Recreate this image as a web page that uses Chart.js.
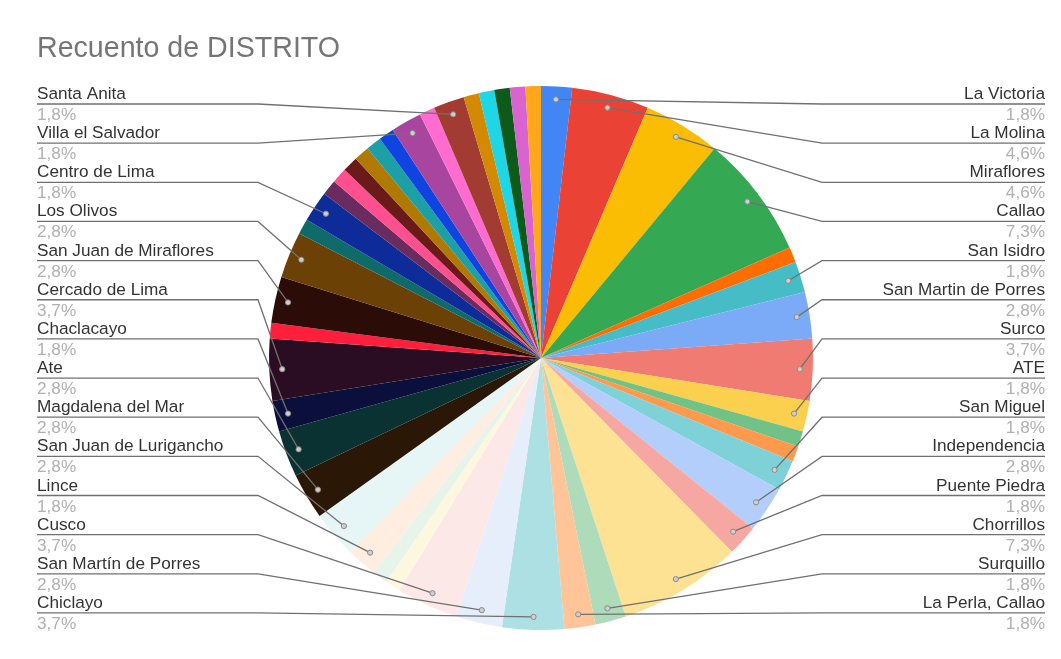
<!DOCTYPE html>
<html lang="es">
<head>
  <meta charset="UTF-8">
  <title>Recuento de DISTRITO</title>
  <script src="https://cdn.jsdelivr.net/npm/chart.js"></script>
  <style>
    html, body { margin: 0; padding: 0; background: #fff; }
    #wrap { width: 1061px; height: 659px; }
  </style>
</head>
<body>
  <div id="wrap">
    <canvas id="pieChart" width="1061" height="659"></canvas>
  </div>

  <script>
    // slices in chart order, clockwise from 12 o'clock; "" = slice too small to get a label
    const districts = [
      'La Victoria', 'La Molina', 'Miraflores', 'Callao', '', 'San Isidro',
      'San Martin de Porres', 'Surco', 'ATE', '', '', 'San Miguel',
      'Independencia', 'Puente Piedra', 'Chorrillos', 'Surquillo', 'La Perla, Callao', 'Chiclayo',
      'San Martín de Porres', 'Cusco', '', '', 'Lince', 'San Juan de Lurigancho',
      'Magdalena del Mar', 'Ate', 'Chaclacayo', 'Cercado de Lima', '', 'San Juan de Miraflores',
      'Los Olivos', '', 'Centro de Lima', '', '', '',
      '', '', '', 'Villa el Salvador', '', 'Santa Anita',
      '', '', '', '', ''
    ];
    const counts = [
      2, 5, 5, 8, 1, 2,
      3, 4, 2, 1, 1, 2,
      3, 2, 8, 2, 2, 4,
      3, 4, 1, 1, 2, 3,
      3, 3, 2, 4, 1, 3,
      3, 1, 2, 1, 1, 1,
      1, 1, 1, 2, 1, 2,
      1, 1, 1, 1, 1
    ];
    const sliceColors = [
      '#4285F4', '#EA4335', '#FBBC04', '#34A853', '#FF6D01', '#46BDC6',
      '#7BAAF7', '#F07B72', '#FCD04F', '#71C287', '#FF994D', '#7ED1D7',
      '#B3CEFB', '#F7A7A1', '#FDE293', '#AEDCBA', '#FFC599', '#ADE0E2',
      '#E6EEFC', '#FCE8E6', '#FEF7E0', '#E6F4EA', '#FFEDE2', '#E6F6F7',
      '#2B1705', '#0B3232', '#0A0F3C', '#2A0D22', '#FF1F3D', '#2B0C07',
      '#6B4106', '#0F6A6A', '#0D2C9A', '#6A2C5E', '#FF4F8F', '#6B1A1A',
      '#B07A00', '#1CA0A6', '#1044E0', '#A8459F', '#FF6BCF', '#A23B31',
      '#D38A00', '#1ED6E6', '#0E5A1A', '#D964D0', '#FFA61A'
    ];

    const total = counts.reduce((a, b) => a + b, 0);

    function pct(v) {
      return (v / total * 100).toFixed(1).replace('.', ',') + '%';
    }

    // title, leader lines and side labels in the Google Sheets style
    const sideLabels = {
      id: 'sideLabels',
      afterDraw(chart) {
        const ctx = chart.ctx;
        const arcs = chart.getDatasetMeta(0).data;

        ctx.save();
        ctx.fillStyle = '#757575';
        ctx.font = '28.6px "Liberation Sans", Arial, sans-serif';
        ctx.textAlign = 'left';
        ctx.textBaseline = 'alphabetic';
        ctx.fillText('Recuento de DISTRITO', 37, 57);

        const right = [], left = [];
        arcs.forEach((arc, i) => {
          if (counts[i] < 2) return;
          const mid = (arc.startAngle + arc.endAngle) / 2;
          const r = arc.outerRadius - 13;
          const item = {
            i,
            mid,
            dx: arc.x + Math.cos(mid) * r,
            dy: arc.y + Math.sin(mid) * r
          };
          // angle measured from the top, clockwise
          const fromTop = mid + Math.PI / 2;
          if (fromTop < Math.PI) right.push(item); else left.push(item);
        });
        right.sort((a, b) => a.mid - b.mid);
        left.sort((a, b) => b.mid - a.mid);

        const step = 39.15;
        const drawSide = (items, isRight) => {
          items.forEach((it, k) => {
            const y0 = 99 + k * step;
            const lineY = y0 + 5;
            const bendX = isRight ? 822 : 258;
            const endX = isRight ? 1045 : 37;

            ctx.strokeStyle = '#707070';
            ctx.lineWidth = 1.3;
            ctx.beginPath();
            ctx.moveTo(it.dx, it.dy);
            ctx.lineTo(bendX, lineY);
            ctx.lineTo(endX, lineY);
            ctx.stroke();

            ctx.beginPath();
            ctx.arc(it.dx, it.dy, 2.6, 0, Math.PI * 2);
            ctx.fillStyle = '#cfcfcf';
            ctx.fill();
            ctx.strokeStyle = '#8a8a8a';
            ctx.lineWidth = 1;
            ctx.stroke();

            ctx.textAlign = isRight ? 'right' : 'left';
            ctx.font = '17.2px "Liberation Sans", Arial, sans-serif';
            ctx.fillStyle = '#333';
            ctx.fillText(districts[it.i], endX, y0);
            ctx.fillStyle = '#b0b0b0';
            ctx.fillText(pct(counts[it.i]), endX, y0 + 21);
          });
        };
        drawSide(right, true);
        drawSide(left, false);
        ctx.restore();
      }
    };

    new Chart(document.getElementById('pieChart'), {
      type: 'pie',
      data: {
        labels: districts,
        datasets: [{
          data: counts,
          backgroundColor: sliceColors,
          borderWidth: 0,
          hoverOffset: 0
        }]
      },
      options: {
        responsive: false,
        animation: false,
        layout: {
          padding: { left: 269, right: 248, top: 86, bottom: 29 }
        },
        plugins: {
          legend: { display: false },
          tooltip: { enabled: false }
        }
      },
      plugins: [sideLabels]
    });
  </script>
</body>
</html>
